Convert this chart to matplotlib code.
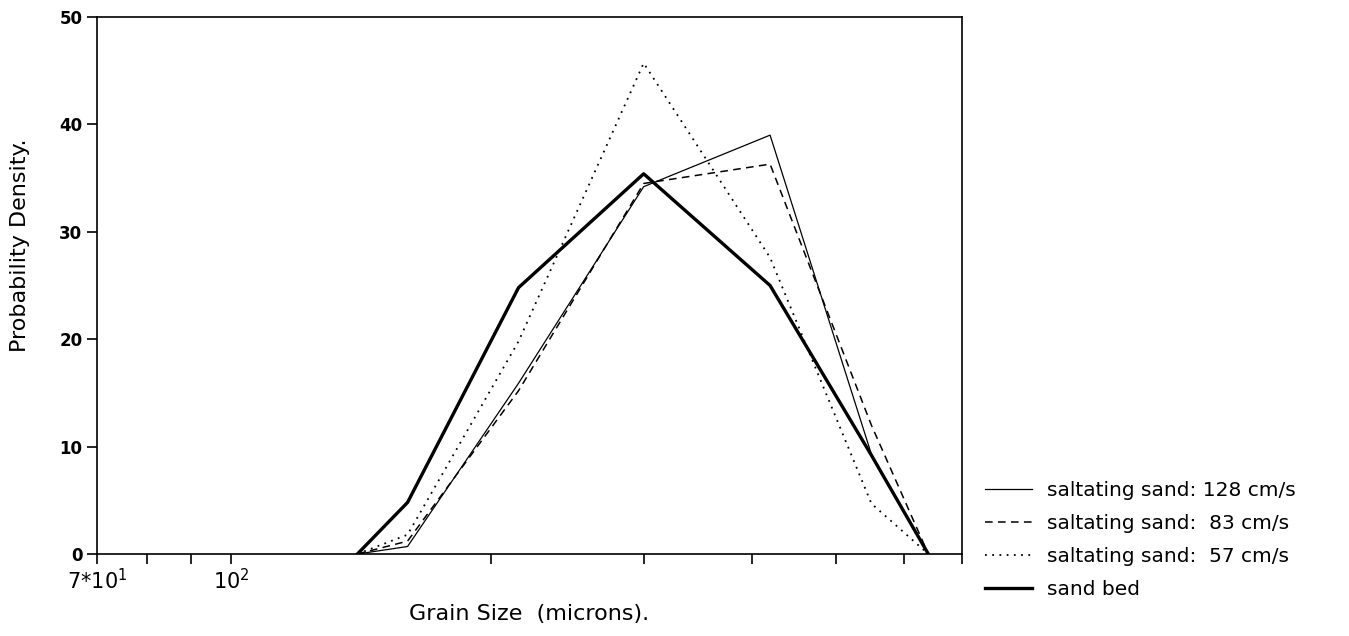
import numpy as np
import matplotlib
matplotlib.use("Agg")
import matplotlib.pyplot as plt
from matplotlib.ticker import FixedLocator, NullLocator

# grain size (microns) and probability density
grain_size = [140, 160, 215, 300, 420, 550, 640]
salt_128 = [0, 0.7, 15.9, 34.2, 39.0, 9.3, 0]
salt_83 = [0, 1.2, 15.2, 34.5, 36.3, 12.0, 0]
salt_57 = [0, 1.8, 19.8, 45.7, 27.6, 4.7, 0]
sand_bed = [0, 4.8, 24.8, 35.4, 25.0, 9.2, 0]

labels = ["saltating sand: 128 cm/s", "saltating sand:  83 cm/s",
          "saltating sand:  57 cm/s", "sand bed"]

x_ticks = [70, 80, 90, 100, 200, 300, 400, 500, 600, 700]
y_ticks = [0, 10, 20, 30, 40, 50]

plt.rcParams['font.family'] = ['DejaVu Sans']

fig = plt.figure(figsize=(13.49, 6.36), dpi=100)
ax = fig.add_axes([0.0719, 0.1289, 0.6412, 0.8444])

l1, = ax.plot(grain_size, salt_128, color='black', lw=0.9, ls='-')
l2, = ax.plot(grain_size, salt_83, color='black', lw=1.1, ls=(0, (5, 3.5)))
l3, = ax.plot(grain_size, salt_57, color='black', lw=1.3, ls=(0, (1, 3)))
l4, = ax.plot(grain_size, sand_bed, color='black', lw=2.4, ls='-')

ax.set_xscale('log')
ax.set_xlim(70, 700)
ax.set_ylim(0, 50)

ax.xaxis.set_major_locator(FixedLocator(x_ticks))
ax.xaxis.set_minor_locator(NullLocator())
ax.set_xticklabels(['7*10$^1$', '', '', '10$^2$', '', '', '', '', '', ''])
ax.set_yticks(y_ticks)
ax.set_yticklabels([str(v) for v in y_ticks], fontweight='bold')

ax.tick_params(axis='both', direction='out', length=7, width=1.2, labelsize=12)
ax.tick_params(axis='x', pad=3, labelsize=15)
for s in ax.spines.values():
    s.set_linewidth(1.2)

ax.set_xlabel("Grain Size  (microns).", fontsize=16, labelpad=8)
ax.set_ylabel("Probability Density.", fontsize=16)
ax.yaxis.set_label_coords(-0.077, 0.575)

fig.legend([l1, l2, l3, l4], labels, loc='upper left',
           bbox_to_anchor=(0.717, 0.272), frameon=False, fontsize=14.5,
           handlelength=2.3, handletextpad=0.75, labelspacing=0.7)

fig.savefig("out.png", dpi=100)
